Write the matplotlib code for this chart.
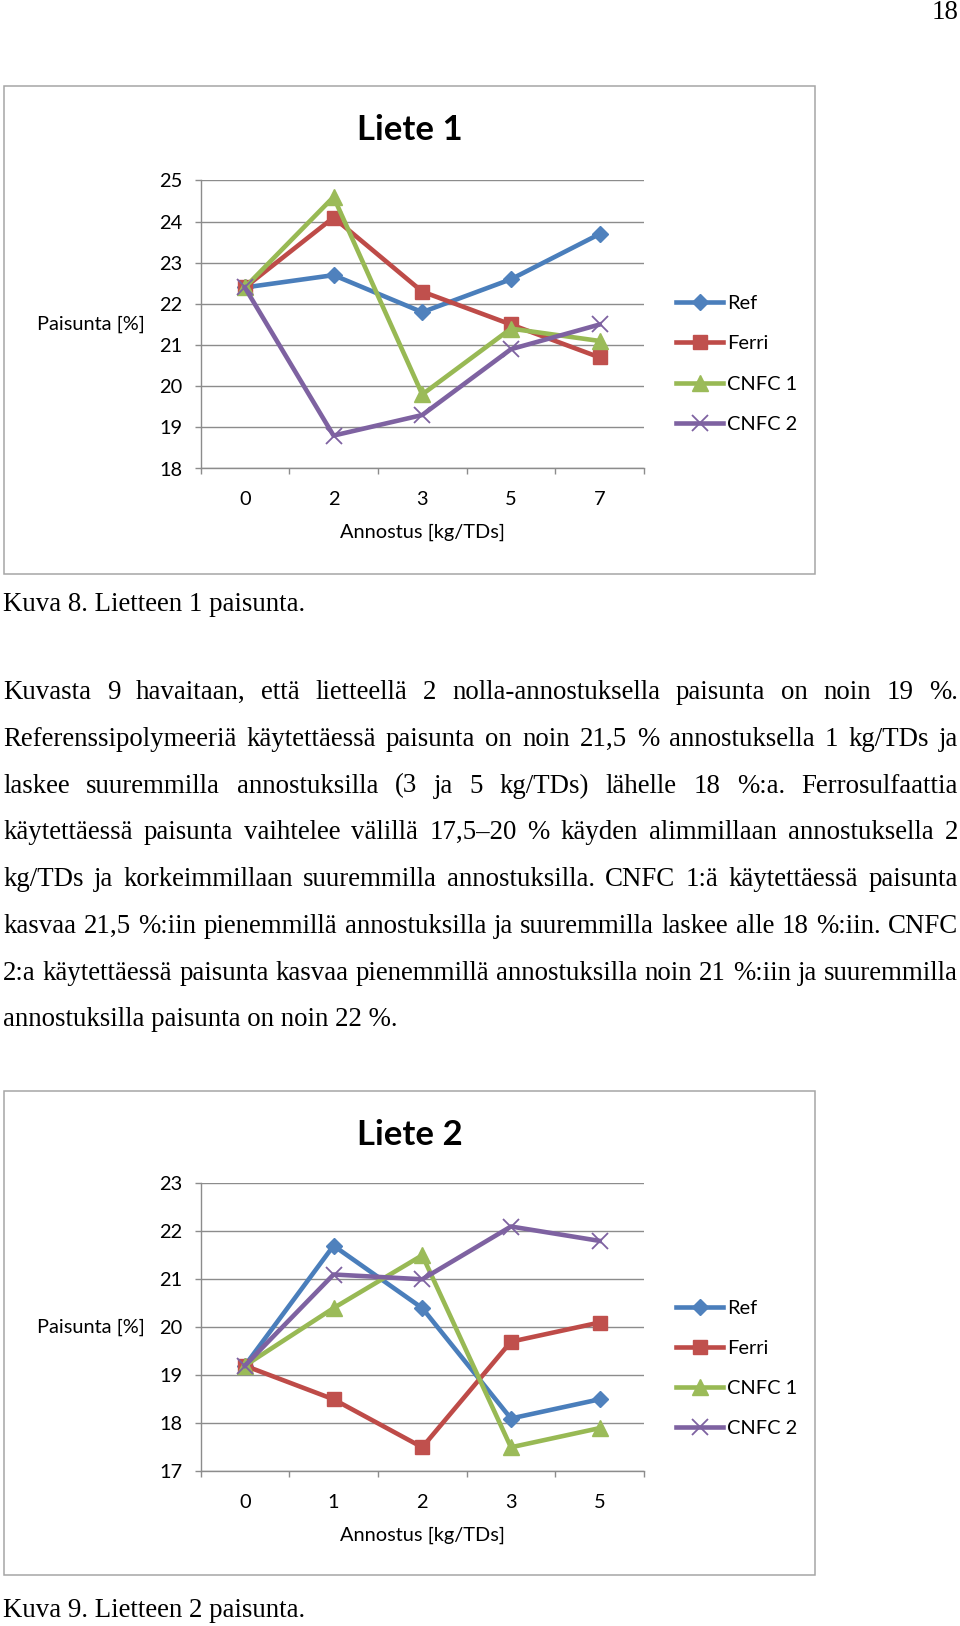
import matplotlib.pyplot as plt
from matplotlib.patches import Rectangle

W, H = 960, 1626

# chart 1 data
doses1 = ["0", "2", "3", "5", "7"]
ref1 = [22.4, 22.7, 21.8, 22.6, 23.7]
ferri1 = [22.4, 24.1, 22.3, 21.5, 20.7]
cnfc1_1 = [22.4, 24.6, 19.8, 21.4, 21.1]
cnfc2_1 = [22.4, 18.8, 19.3, 20.9, 21.5]

# chart 2 data
doses2 = ["0", "1", "2", "3", "5"]
ref2 = [19.2, 21.7, 20.4, 18.1, 18.5]
ferri2 = [19.2, 18.5, 17.5, 19.7, 20.1]
cnfc1_2 = [19.2, 20.4, 21.5, 17.5, 17.9]
cnfc2_2 = [19.2, 21.1, 21.0, 22.1, 21.8]

series_names = ["Ref", "Ferri", "CNFC 1", "CNFC 2"]

paragraph = [
    "Kuvasta 9 havaitaan, että lietteellä 2 nolla-annostuksella paisunta on noin 19 %.",
    "Referenssipolymeeriä käytettäessä paisunta on noin 21,5 % annostuksella 1 kg/TDs ja",
    "laskee suuremmilla annostuksilla (3 ja 5 kg/TDs) lähelle 18 %:a. Ferrosulfaattia",
    "käytettäessä paisunta vaihtelee välillä 17,5–20 % käyden alimmillaan annostuksella 2",
    "kg/TDs ja korkeimmillaan suuremmilla annostuksilla. CNFC 1:ä käytettäessä paisunta",
    "kasvaa 21,5 %:iin pienemmillä annostuksilla ja suuremmilla laskee alle 18 %:iin. CNFC",
    "2:a käytettäessä paisunta kasvaa pienemmillä annostuksilla noin 21 %:iin ja suuremmilla",
    "annostuksilla paisunta on noin 22 %.",
]

styles = [
    dict(color="#4A7EBB", marker="D", ms=8.3, mfc="#4F81BD", mec="#4F81BD"),
    dict(color="#BE4B48", marker="s", ms=10.5, mfc="#C0504D", mec="#C0504D"),
    dict(color="#98B954", marker="^", ms=11.5, mfc="#9BBB59", mec="#9BBB59"),
    dict(color="#7E62A1", marker="x", ms=11, mec="#7E62A1", mew=1.3),
]

CH = "Lato"
SERIF = "Liberation Serif"
GRID = "#8C8C8C"

fig = plt.figure(figsize=(W / 100, H / 100), dpi=100)


def fx(px):
    return px / W


def fy(py):
    return 1 - py / H


def chart(box, plot_top, plot_bot, title, title_y, cats, data, ylim, legend_y):
    x0, y0, x1, y1 = box
    fig.add_artist(Rectangle((fx(x0), fy(y1)), fx(x1 - x0), (y1 - y0) / H,
                             transform=fig.transFigure, fill=False,
                             ec="#A6A6A6", lw=1.1))
    ax = fig.add_axes([fx(200.5), fy(plot_bot), fx(443.5), (plot_bot - plot_top) / H])
    xs = list(range(len(cats)))
    lines = []
    for vals, st in zip(data, styles):
        ln, = ax.plot(xs, vals, lw=3.3, **st)
        lines.append(ln)
    ax.set_xlim(-0.5, len(cats) - 0.5)
    ax.set_ylim(*ylim)
    ax.set_yticks(range(ylim[0], ylim[1] + 1))
    ax.yaxis.grid(True, color=GRID, lw=1.0)
    ax.set_axisbelow(True)
    for s in ["top", "right"]:
        ax.spines[s].set_visible(False)
    for s in ["left", "bottom"]:
        ax.spines[s].set_color(GRID)
        ax.spines[s].set_linewidth(1.0)
    ax.set_xticks(xs)
    ax.set_xticklabels(cats)
    ax.set_xticks([i - 0.5 for i in range(len(cats) + 1)], minor=True)
    ax.tick_params(axis="x", which="major", length=0, pad=16, labelsize=14.4)
    ax.tick_params(axis="x", which="minor", length=4, color=GRID, width=1.0)
    ax.tick_params(axis="y", length=4, color=GRID, width=1.0, pad=9, labelsize=14.4)
    for lab in ax.get_xticklabels() + ax.get_yticklabels():
        lab.set_fontfamily(CH)
    ax.set_xlabel("Annostus [kg/TDs]", fontsize=14.4, fontfamily=CH, va="center")
    ax.xaxis.set_label_coords(0.5, -64 / (plot_bot - plot_top))
    ax.set_ylabel("Paisunta [%]", fontsize=14.4, fontfamily=CH, rotation=0,
                  ha="center", va="center")
    ax.yaxis.set_label_coords((91 - 200.5) / 443.5, 0.5)
    fig.text(fx(410), fy(title_y), title, fontsize=25, fontweight="bold",
             fontfamily=CH, ha="center", va="center")
    ax.legend(lines, series_names, loc="center left",
              bbox_to_anchor=(fx(676), fy(legend_y)), bbox_transform=fig.transFigure,
              frameon=False, borderpad=0, borderaxespad=0, handlelength=2.35,
              handletextpad=0.2, labelspacing=1.16, numpoints=1,
              prop={"family": CH, "size": 14.4})
    return ax


chart((3.5, 86.5, 815, 573.5), 180.5, 468.5, "Liete 1", 130, doses1,
      [ref1, ferri1, cnfc1_1, cnfc2_1], (18, 25), 364)
chart((3.5, 1091, 815, 1575), 1183.3, 1471.3, "Liete 2", 1134.5, doses2,
      [ref2, ferri2, cnfc1_2, cnfc2_2], (17, 23), 1368.5)

TS = 19.4
fig.text(fx(958), fy(19), "18", fontsize=TS, fontfamily=SERIF, ha="right", va="baseline")
fig.text(fx(3), fy(611), "Kuva 8. Lietteen 1 paisunta.", fontsize=TS,
         fontfamily=SERIF, va="baseline")
fig.text(fx(3), fy(1617), "Kuva 9. Lietteen 2 paisunta.", fontsize=TS,
         fontfamily=SERIF, va="baseline")

# justified paragraph
renderer = fig.canvas.get_renderer()
left, right = 3, 958
for i, line in enumerate(paragraph):
    base = 699 + i * 46.75
    if i == len(paragraph) - 1:
        fig.text(fx(left), fy(base), line, fontsize=TS, fontfamily=SERIF, va="baseline")
        continue
    words = line.split(" ")
    texts = [fig.text(0, fy(base), w, fontsize=TS, fontfamily=SERIF, va="baseline")
             for w in words]
    widths = [t.get_window_extent(renderer).width for t in texts]
    gap = (right - left - sum(widths)) / (len(words) - 1)
    x = left
    for t, w in zip(texts, widths):
        t.set_x(fx(x))
        x += w + gap

fig.savefig("out.png", dpi=100)
